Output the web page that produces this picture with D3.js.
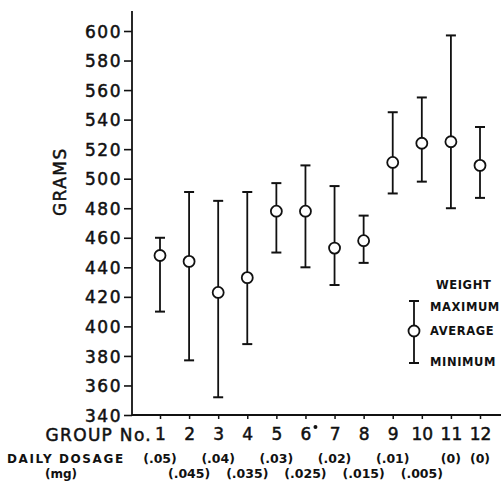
<!DOCTYPE html>
<html>
<head>
<meta charset="utf-8">
<script src="https://cdn.jsdelivr.net/npm/d3@7"></script>
<style>
  body { margin: 0; background: #fff; }
  svg text { font-family: "DejaVu Sans", sans-serif; fill: #111; }
  svg text.big { stroke: #111; stroke-width: 0.5px; }
</style>
</head>
<body>
<div id="chart"></div>
<script>
// data
var groups  = [1, 2, 3, 4, 5, 6, 7, 8, 9, 10, 11, 12];
var maxW    = [460, 491, 485, 491, 497, 509, 495, 475, 545, 555, 597, 535];
var avgW    = [448, 444, 423, 433, 478, 478, 453, 458, 511, 524, 525, 509];
var minW    = [410, 377, 352, 388, 450, 440, 428, 443, 490, 498, 480, 487];
var dosage  = ["(.05)", "(.045)", "(.04)", "(.035)", "(.03)", "(.025)",
               "(.02)", "(.015)", "(.01)", "(.005)", "(0)", "(0)"];
var yTicks  = [340, 360, 380, 400, 420, 440, 460, 480, 500, 520, 540, 560, 580, 600];

var width = 501, height = 481;
var margin = {top: 31, right: 0, bottom: 66, left: 132};

var svg = d3.select('#chart').append('svg')
  .attr('width', width)
  .attr('height', height);

var x = d3.scaleLinear().domain([1, 12]).range([160, 480]);
var y = d3.scaleLinear().domain([340, 600]).range([height - margin.bottom, margin.top]);

// y axis
var yAxis = svg.append('g')
  .attr('transform', 'translate(' + margin.left + ',0)')
  .call(d3.axisLeft(y).tickValues(yTicks).tickSize(8).tickPadding(2));
yAxis.select('.domain').remove();
yAxis.selectAll('line').attr('stroke', '#111').attr('stroke-width', 1.6);
yAxis.selectAll('text')
  .attr('class', 'big')
  .style('font-size', '17px')
  .style('letter-spacing', '1.5px')
  .attr('dy', '0.36em');
svg.append('line')
  .attr('x1', margin.left).attr('x2', margin.left)
  .attr('y1', 11).attr('y2', y(340))
  .attr('stroke', '#111').attr('stroke-width', 1.8);

// x axis
var xAxis = svg.append('g')
  .attr('transform', 'translate(0,' + y(340) + ')')
  .call(d3.axisBottom(x).tickValues(groups).tickSize(4).tickPadding(5)
    .tickFormat(function(d) { return d; }));
xAxis.select('.domain').remove();
xAxis.selectAll('line').attr('stroke', '#111').attr('stroke-width', 1.5);
xAxis.selectAll('text')
  .attr('class', 'big')
  .style('font-size', '17px')
  .attr('dy', '0.95em');
svg.append('line')
  .attr('x1', margin.left).attr('x2', width)
  .attr('y1', y(340)).attr('y2', y(340))
  .attr('stroke', '#111').attr('stroke-width', 1.8);

// asterisk dot after group 6
svg.append('circle')
  .attr('cx', x(6) + 10).attr('cy', y(340) + 12)
  .attr('r', 2).attr('fill', '#111');

svg.append('text')
  .attr('class', 'big')
  .attr('x', 152).attr('y', y(340) + 26)
  .attr('text-anchor', 'end')
  .style('font-size', '17px')
  .style('letter-spacing', '1.3px')
  .text('GROUP No.');

svg.append('text')
  .attr('class', 'big')
  .attr('transform', 'translate(66,' + y(498) + ') rotate(-90)')
  .attr('text-anchor', 'middle')
  .style('font-size', '17px')
  .style('letter-spacing', '1.5px')
  .text('GRAMS');

// dosage rows
svg.append('text')
  .attr('x', 7).attr('y', 463)
  .style('font-size', '12px').style('font-weight', 'bold')
  .style('letter-spacing', '1.6px')
  .text('DAILY DOSAGE');
svg.append('text')
  .attr('x', 61).attr('y', 478)
  .attr('text-anchor', 'middle')
  .style('font-size', '12px').style('font-weight', 'bold')
  .text('(mg)');

svg.append('g').selectAll('text')
  .data(groups)
  .enter().append('text')
  .attr('x', function(d) { return x(d); })
  .attr('y', function(d, i) { return (i % 2 === 0 || i === 11) ? 463 : 478; })
  .attr('text-anchor', 'middle')
  .style('font-size', '12.5px').style('font-weight', 'bold')
  .text(function(d, i) { return dosage[i]; });

// error bars
var bars = svg.append('g').selectAll('.bar')
  .data(groups)
  .enter().append('g')
  .attr('class', 'bar')
  .attr('transform', function(d) { return 'translate(' + x(d) + ',0)'; });

bars.append('line')
  .attr('y1', function(d, i) { return y(maxW[i]); })
  .attr('y2', function(d, i) { return y(minW[i]); })
  .attr('stroke', '#111').attr('stroke-width', 1.8);
bars.append('line')
  .attr('x1', -5).attr('x2', 5)
  .attr('y1', function(d, i) { return y(maxW[i]); })
  .attr('y2', function(d, i) { return y(maxW[i]); })
  .attr('stroke', '#111').attr('stroke-width', 2);
bars.append('line')
  .attr('x1', -5).attr('x2', 5)
  .attr('y1', function(d, i) { return y(minW[i]); })
  .attr('y2', function(d, i) { return y(minW[i]); })
  .attr('stroke', '#111').attr('stroke-width', 2);
bars.append('circle')
  .attr('cy', function(d, i) { return y(avgW[i]); })
  .attr('r', 5.5)
  .attr('fill', '#fff').attr('stroke', '#111').attr('stroke-width', 1.8);

// legend
var legend = svg.append('g').attr('transform', 'translate(414,0)');
legend.append('line').attr('y1', 301).attr('y2', 363)
  .attr('stroke', '#111').attr('stroke-width', 1.8);
legend.append('line').attr('x1', -5).attr('x2', 5).attr('y1', 301).attr('y2', 301)
  .attr('stroke', '#111').attr('stroke-width', 2);
legend.append('line').attr('x1', -5).attr('x2', 5).attr('y1', 363).attr('y2', 363)
  .attr('stroke', '#111').attr('stroke-width', 2);
legend.append('circle').attr('cy', 331).attr('r', 5.5)
  .attr('fill', '#fff').attr('stroke', '#111').attr('stroke-width', 1.8);

var legendText = [['WEIGHT', 289, 22], ['MAXIMUM', 311, 16], ['AVERAGE', 335, 16], ['MINIMUM', 366, 16]];
legend.selectAll('.lt')
  .data(legendText)
  .enter().append('text')
  .attr('class', 'lt')
  .attr('x', function(d) { return d[2]; })
  .attr('y', function(d) { return d[1]; })
  .style('font-size', '11.5px').style('font-weight', 'bold')
  .style('letter-spacing', '0.6px')
  .text(function(d) { return d[0]; });
</script>
</body>
</html>
